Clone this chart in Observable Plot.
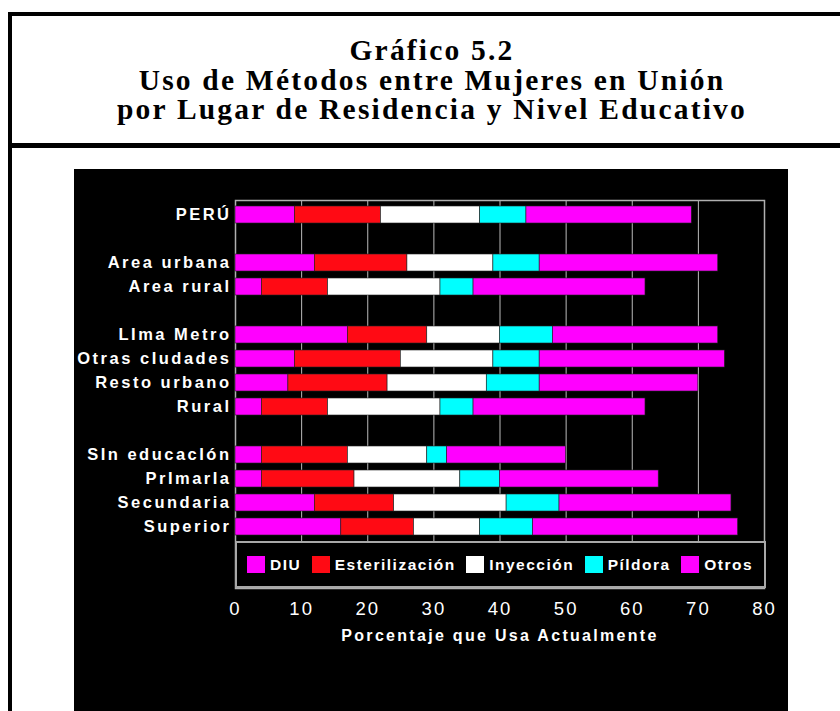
<!DOCTYPE html>
<html>
<head>
<meta charset="utf-8">
<script src="https://cdn.jsdelivr.net/npm/d3@7"></script>
<script src="https://cdn.jsdelivr.net/npm/@observablehq/plot@0.6"></script>
<style>
  html, body { margin: 0; padding: 0; background: #fff; width: 840px; height: 711px; overflow: hidden; }
  .frame { position: absolute; left: 8px; top: 12px; width: 900px; height: 800px;
           border-left: 4px solid #000; border-top: 4px solid #000; }
  .sep { position: absolute; left: 8px; top: 143px; width: 900px; height: 5px; background: #000; }
  .title { position: absolute; left: 12px; top: 36px; width: 840px; text-align: center;
           font-family: "Liberation Serif", "Times New Roman", serif; font-weight: bold;
           font-size: 29.5px; line-height: 29.5px; letter-spacing: 2.2px; color: #000; }
  #chart { position: absolute; left: 74px; top: 169px; }
  #chart svg { display: block; }
  .chart g[aria-label="y-axis tick label"] text { letter-spacing: 2.5px; }
  .chart g[aria-label="x-axis tick label"] text { letter-spacing: 2px; }
  .chart g[aria-label="text"] text { letter-spacing: 2.3px; }
  #legend { position: absolute; left: 235px; top: 541px; width: 531px; height: 47px; box-sizing: border-box;
            border: 2px solid #a8a8a8; background: #000; display: flex; align-items: center;
            padding-left: 10px; font-family: "Liberation Sans", Arial, sans-serif; font-weight: bold;
            font-size: 15.5px; letter-spacing: 1.5px; color: #fff; }
  #legend .item { display: flex; align-items: center; margin-right: 10.5px; }
  #legend .sw { width: 18px; height: 17px; margin-right: 5px; }
</style>
</head>
<body>
<div class="frame"></div>
<div class="sep"></div>
<div class="title">
  <div>Gráfico 5.2</div>
  <div>Uso de Métodos entre Mujeres en Unión</div>
  <div>por Lugar de Residencia y Nivel Educativo</div>
</div>
<div id="chart"></div>
<div id="legend"></div>
<script>
// Categories (as printed in the reference)
const categories = ["PERÚ", "Area urbana", "Area rural", "LIma Metro", "Otras cIudades", "Resto urbano", "Rural",
                    "SIn educacIón", "PrImarIa", "Secundaria", "Superior"];
// Row order including blank separator rows (two blank rows at the bottom hold the legend)
const rowOrder = ["PERÚ", " ", "Area urbana", "Area rural", "  ", "LIma Metro", "Otras cIudades", "Resto urbano", "Rural",
                  "   ", "SIn educacIón", "PrImarIa", "Secundaria", "Superior", "    ", "     "];
const methods = ["DIU", "Esterilización", "Inyección", "Píldora", "Otros"];
const colors = ["#ff00ff", "#ff0a14", "#ffffff", "#00ffff", "#ff00ff"];

// Percentages by method
const diu    = [9, 12, 4, 17, 9, 8, 4, 4, 4, 12, 16];
const ester  = [13, 14, 10, 12, 16, 15, 10, 13, 14, 12, 11];
const iny    = [15, 13, 17, 11, 14, 15, 17, 12, 16, 17, 10];
const pild   = [7, 7, 5, 8, 7, 8, 5, 3, 6, 8, 8];
const otros  = [25, 27, 26, 25, 28, 24, 26, 18, 24, 26, 31];
const series = [diu, ester, iny, pild, otros];

const xTicks = [0, 10, 20, 30, 40, 50, 60, 70, 80];
const xLabel = "Porcentaje que Usa Actualmente";

const data = categories.flatMap((c, i) => methods.map((m, j) => ({cat: c, method: m, value: series[j][i]})));

const chart = Plot.plot({
  width: 714,
  height: 542,
  marginLeft: 161,
  marginRight: 24,
  marginTop: 31,
  marginBottom: 123,
  className: "chart",
  style: {background: "#000", color: "#fff", fontFamily: "'Liberation Sans', Arial, sans-serif"},
  x: {domain: [0, 80]},
  y: {domain: rowOrder, paddingInner: 0.3, paddingOuter: 0.15},
  color: {domain: methods, range: colors},
  marks: [
    Plot.gridX(xTicks.filter(v => v > 0 && v < 80), {stroke: "#bbb", strokeOpacity: 1}),
    Plot.frame({stroke: "#b0b0b0", strokeWidth: 1.5}),
    Plot.barX(data, Plot.stackX({x: "value", y: "cat", fill: "method", z: "method", stroke: "#222", strokeWidth: 0.6})),
    Plot.axisY({tickSize: 0, tickPadding: 4, fontSize: 16.5, fontWeight: "bold", label: null}),
    Plot.axisX({ticks: xTicks, tickSize: 0, tickPadding: 13, fontSize: 18.5, label: null}),
    Plot.text([xLabel], {frameAnchor: "bottom", dy: 52, fontSize: 16, fontWeight: "bold", fill: "#fff"})
  ]
});
document.getElementById("chart").appendChild(chart);

// Legend (inside the plot frame, as in the reference)
const legend = document.getElementById("legend");
methods.forEach((m, j) => {
  const item = document.createElement("div");
  item.className = "item";
  const sw = document.createElement("div");
  sw.className = "sw";
  sw.style.background = colors[j];
  const t = document.createElement("span");
  t.textContent = m;
  item.appendChild(sw);
  item.appendChild(t);
  legend.appendChild(item);
});
</script>
</body>
</html>
